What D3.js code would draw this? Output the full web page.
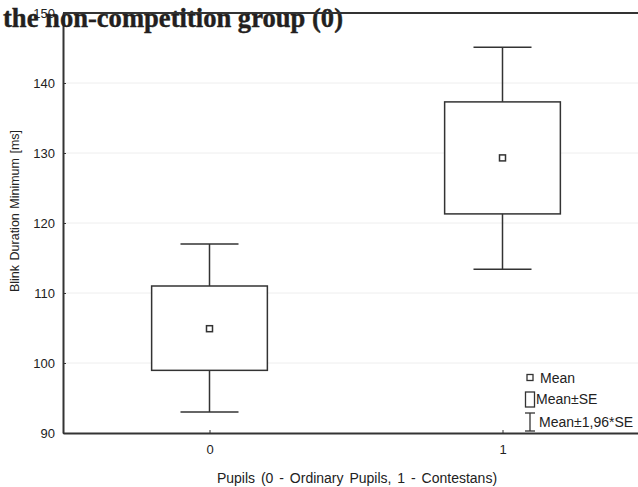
<!DOCTYPE html>
<html>
<head>
<meta charset="utf-8">
<script src="https://cdn.jsdelivr.net/npm/d3@7"></script>
<style>
  html, body { margin: 0; padding: 0; background: #fff; }
  svg { display: block; }
</style>
</head>
<body>
<svg id="chart" width="638" height="487"></svg>
<script>
// Groups on the x axis
const groups = [0, 1];
// Mean blink duration minimum per group [ms]
const means = [104.9, 129.3];
// Mean ± SE (box edges)
const seLow = [98.95, 121.3];
const seHigh = [111.0, 137.3];
// Mean ± 1.96*SE (whisker ends)
const ciLow = [93.0, 113.4];
const ciHigh = [117.0, 145.1];
// Axis ticks
const yTicks = [90, 100, 110, 120, 130, 140, 150];
const xTicks = [0, 1];

const svg = d3.select("#chart");
const ink = "#333";
const sans = "Arial, 'Liberation Sans', sans-serif";

const x = d3.scaleLinear().domain([-0.5, 1.5]).range([63, 649]);
const y = d3.scaleLinear().domain([90, 150]).range([433, 13]);

const boxW = 0.395;   // in x units
const capW = 0.198;

// light horizontal grid
svg.append("g")
  .selectAll("line")
  .data(yTicks.filter(t => t > 90 && t < 150))
  .join("line")
  .attr("x1", x(-0.5)).attr("x2", 638)
  .attr("y1", d => y(d)).attr("y2", d => y(d))
  .attr("stroke", "#eeeeee").attr("stroke-width", 1);

// y axis
const yAxis = svg.append("g")
  .attr("transform", `translate(${x(-0.5)},0)`)
  .call(d3.axisLeft(y).tickValues(yTicks).tickSizeInner(-3).tickSizeOuter(0).tickPadding(8));
yAxis.select(".domain").attr("stroke", ink).attr("stroke-width", 2);
yAxis.selectAll(".tick line").attr("stroke", ink);
yAxis.selectAll(".tick text")
  .attr("font-family", sans)
  .attr("font-size", 13).attr("fill", "#222");

// heading, drawn over the top of the plot
svg.append("text")
  .attr("x", 3).attr("y", 27)
  .attr("font-family", "'Liberation Serif', 'DejaVu Serif', serif")
  .attr("font-weight", "bold")
  .attr("font-size", 27)
  .attr("fill", "#231f20")
  .attr("stroke", "#231f20").attr("stroke-width", 0.4)
  .attr("textLength", 340)
  .attr("lengthAdjust", "spacingAndGlyphs")
  .text("the non-competition group (0)");

// top frame line at 150
svg.append("line")
  .attr("x1", x(-0.5)).attr("x2", 638)
  .attr("y1", y(150)).attr("y2", y(150))
  .attr("stroke", ink).attr("stroke-width", 2);

// x axis
const xAxis = svg.append("g")
  .attr("transform", `translate(0,${y(90)})`)
  .call(d3.axisBottom(x).tickValues(xTicks).tickFormat(d3.format("d")).tickSizeInner(-3).tickSizeOuter(0).tickPadding(12));
xAxis.select(".domain").attr("stroke", ink).attr("stroke-width", 2);
xAxis.selectAll(".tick line").attr("stroke", ink);
xAxis.selectAll(".tick text")
  .attr("font-family", sans)
  .attr("font-size", 13).attr("fill", "#222");

// axis titles
svg.append("text")
  .attr("transform", `translate(19,${(y(90) + y(150)) / 2 - 12}) rotate(-90)`)
  .attr("text-anchor", "middle")
  .attr("font-family", sans)
  .attr("font-size", 12.5).attr("fill", "#222")
  .attr("word-spacing", 1)
  .text("Blink Duration Minimum [ms]");

svg.append("text")
  .attr("x", 357).attr("y", 483)
  .attr("text-anchor", "middle")
  .attr("font-family", sans)
  .attr("font-size", 14).attr("fill", "#222")
  .attr("word-spacing", 2)
  .text("Pupils (0 - Ordinary Pupils, 1 - Contestans)");

// box-and-whisker marks
const data = groups.map((g, i) => ({
  g, mean: means[i], lo: seLow[i], hi: seHigh[i], cl: ciLow[i], ch: ciHigh[i]
}));

const marks = svg.append("g").selectAll("g").data(data).join("g");

marks.append("line")
  .attr("x1", d => x(d.g)).attr("x2", d => x(d.g))
  .attr("y1", d => y(d.ch)).attr("y2", d => y(d.cl))
  .attr("stroke", ink).attr("stroke-width", 1.5);
marks.append("line")
  .attr("x1", d => x(d.g - capW / 2)).attr("x2", d => x(d.g + capW / 2))
  .attr("y1", d => y(d.ch)).attr("y2", d => y(d.ch))
  .attr("stroke", ink).attr("stroke-width", 1.5);
marks.append("line")
  .attr("x1", d => x(d.g - capW / 2)).attr("x2", d => x(d.g + capW / 2))
  .attr("y1", d => y(d.cl)).attr("y2", d => y(d.cl))
  .attr("stroke", ink).attr("stroke-width", 1.5);
marks.append("rect")
  .attr("x", d => x(d.g - boxW / 2))
  .attr("width", d => x(d.g + boxW / 2) - x(d.g - boxW / 2))
  .attr("y", d => y(d.hi))
  .attr("height", d => y(d.lo) - y(d.hi))
  .attr("fill", "#fff").attr("stroke", ink).attr("stroke-width", 1.5);
marks.append("rect")
  .attr("x", d => x(d.g) - 3).attr("y", d => y(d.mean) - 3)
  .attr("width", 6).attr("height", 6)
  .attr("fill", "#fff").attr("stroke", ink).attr("stroke-width", 1.5);

// legend
const lg = svg.append("g");
lg.append("rect").attr("x", 527).attr("y", 374.5).attr("width", 6).attr("height", 6)
  .attr("fill", "#fff").attr("stroke", ink).attr("stroke-width", 1.3);
lg.append("rect").attr("x", 525.5).attr("y", 392).attr("width", 9).attr("height", 15)
  .attr("fill", "#fff").attr("stroke", ink).attr("stroke-width", 1.3);
lg.append("line").attr("x1", 530).attr("x2", 530).attr("y1", 413).attr("y2", 431)
  .attr("stroke", ink).attr("stroke-width", 1.3);
lg.append("line").attr("x1", 525).attr("x2", 535).attr("y1", 413).attr("y2", 413)
  .attr("stroke", ink).attr("stroke-width", 1.3);
lg.append("line").attr("x1", 525).attr("x2", 535).attr("y1", 431).attr("y2", 431)
  .attr("stroke", ink).attr("stroke-width", 1.3);
[["Mean", 540, 383], ["Mean±SE", 536, 404], ["Mean±1,96*SE", 539, 427]].forEach(([t, tx, ty]) => {
  lg.append("text").attr("x", tx).attr("y", ty)
    .attr("font-family", sans).attr("font-size", 14).attr("fill", "#222")
    .text(t);
});
</script>
</body>
</html>
